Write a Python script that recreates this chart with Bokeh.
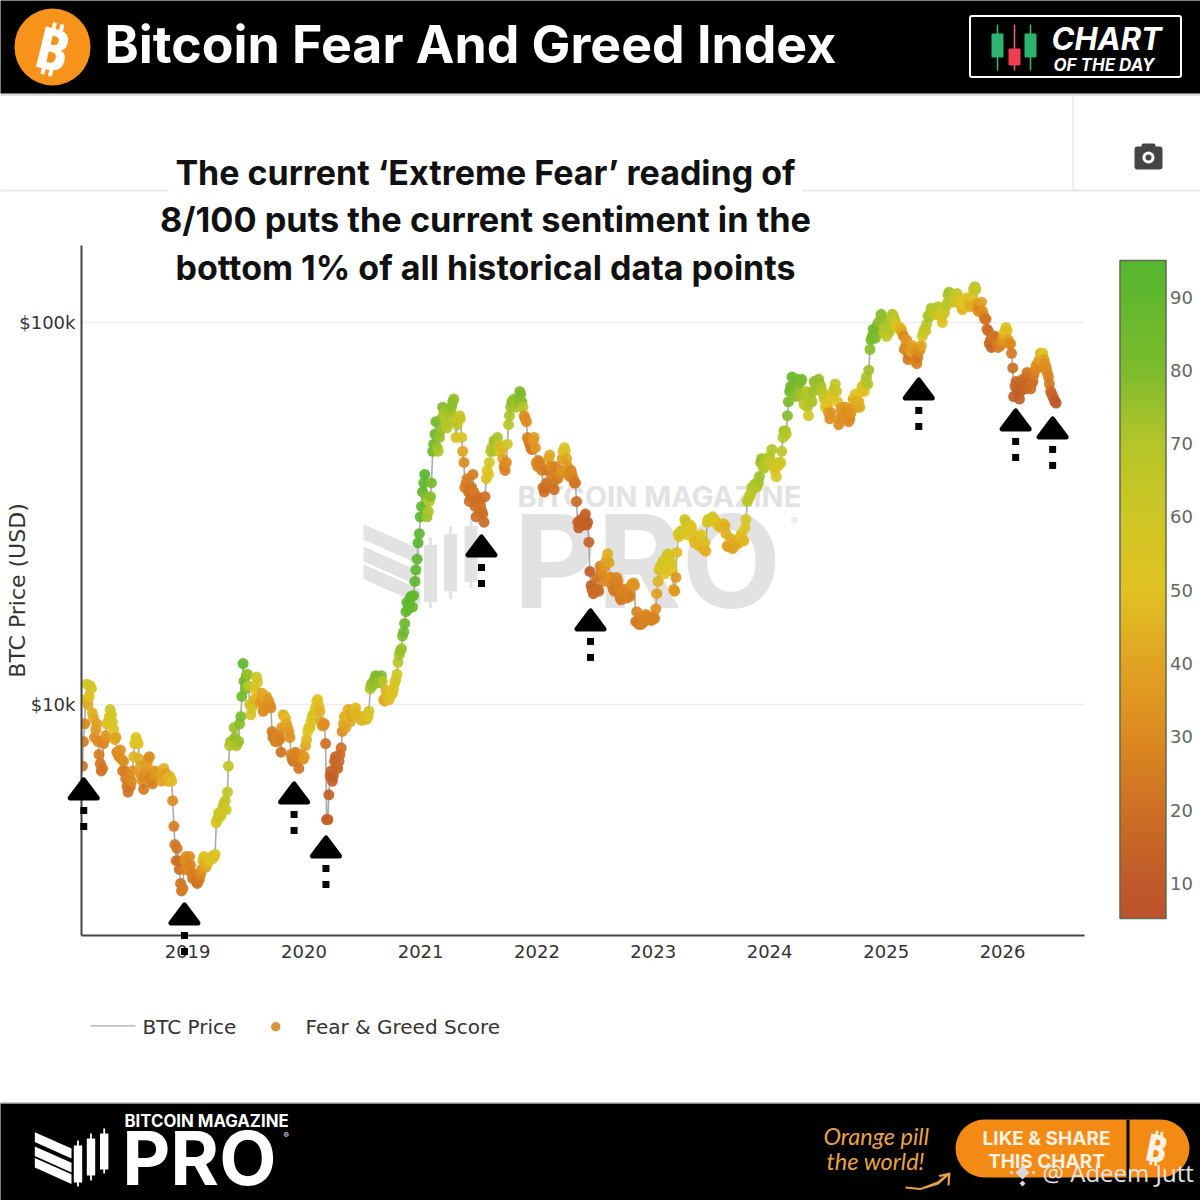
import math
import numpy as np
import pandas as pd
from bokeh.embed import file_html
from bokeh.resources import INLINE
from bokeh.plotting import figure
from bokeh.models import (BoxAnnotation, ColorBar, ColumnDataSource, FixedTicker, Label,
                          LinearColorMapper, PolyAnnotation)

# ---------- data ----------
price_2018 = [6900,8900,11300,10500, 11000,9200,8600,8000, 7000,6800,8100,8900,9300, 9400,8600,8200,7400,
              7600,6700,6700,6100, 6500,6300,7300,8200,7900, 6900,6300,6500,7000, 7300,6300,6500,6600,
              6600,6600,6500,6500,6400, 6500,6300,4800,3900, 3900,3400,3300,3900,3800]
score_2018 = [20,28,56,50, 58,42,36,30, 22,22,30,46,55, 60,50,40,30,
              32,25,25,22, 28,30,46,55,52, 40,30,30,38, 30,28,32,36,
              34,38,42,40,44, 46,48,25,22, 20,22,24,30,32]
mid_price_2018 = [8000,10300,10000,11200, 9500,8200,8900,7400, 6700,7900,8300,9000,9700, 9000,8100,7500,7300,
                  7200,7100,6400,5900, 6100,6700,7900,8000,7200, 6500,6000,6700,7200, 6500,6200,6700,6500,
                  6550,6300,6800,6600,6300, 6400,5600,4300,4200, 3700,3250,3700,4000,3700]
mid_score_2018 = [24,45,42,60, 45,30,38,25, 20,28,36,50,62, 55,42,28,30,
                  30,32,24,20, 22,32,52,58,45, 32,24,34,40, 28,26,34,34,
                  32,40,44,36,42, 44,30,24,22, 18,20,26,32,30]
price_2019 = [4000,3600,3550,3450, 3450,3600,3900,3800, 3850,3900,4000,4000, 4900,5200,5100,5400,5600,
              5900,7800,8000,8700, 7800,8000,9300,12800, 11000,12000,10000,9800,10300, 11800,10300,10200,9600,
              10400,10300,10000,8500,8300, 8200,8300,7500,9400, 9200,8700,8200,7200, 7400,7300,6800,7400,7200]
score_2019 = [30,25,24,22, 22,30,45,42, 45,50,52,50, 55,58,60,62,63,
              65,68,72,74, 72,75,80,92, 80,75,65,55,45, 62,48,35,30,
              42,38,35,25,25, 30,28,22,45, 48,40,32,25, 28,26,22,30,32]
mid_price_2019 = [3800,3500,3600,3400, 3500,3700,4000,3750, 3900,3950,3950,4050, 5000,5100,5250,5500,5300,
                  6900,8000,7900,8200, 7900,8900,10500,11500, 11900,11200,9400,10000,10900, 11400,10100,10700,9700,
                  10500,10200,9800,8200,8000, 8000,8100,8700,9300, 8900,8500,7400,7100, 7500,7100,7200,7300,7300]
mid_score_2019 = [28,24,26,20, 24,34,48,40, 46,50,54,52, 56,60,60,64,60,
                  66,72,70,76, 70,78,84,88, 82,68,58,60,50, 58,40,40,32,
                  42,36,30,22,24, 28,26,32,44, 42,36,28,24, 28,24,26,28,36]
price_2020 = [7800,8500,8700,9300, 9500,10200,9900,9000, 8800,7900,5000,6500,6300, 7100,6900,7100,7700,
              8900,8700,9700,9000, 9700,9700,9400,9300,9100, 9300,9200,9300,11000, 11200,11600,11800,11400,11900,
              10300,10900,10500,10700, 10700,11400,12000,13500, 14000,15500,17500,17800,19000,
              18000,21000,24000,28000]
score_2020 = [40,50,52,55, 55,50,48,40, 35,20,12,12,12, 15,15,18,20,
              40,40,45,42, 45,46,44,46,45, 46,48,50,72, 75,78,80,75,80,
              45,45,46,48, 50,55,60,72, 75,85,88,90,92,
              88,92,92,93]
mid_price_2020 = [8100,8700,9000,9400, 9800,10300,9600,8800, 8900,5000,5800,6700,6500, 7300,6800,7400,8500,
                  9300,9200,9300,9500, 9500,9800,9300,9200,9100, 9250,9150,9600,11300, 11500,11900,11500,11500,11500,
                  10200,10700,10300,10600, 11000,11600,12900,13800, 15100,16300,18500,18300,19200,
                  19300,22500,26500,31000]
mid_score_2020 = [46,52,54,56, 52,50,44,38, 30,14,12,13,13, 14,16,18,30,
                  42,44,46,40, 44,48,46,44,46, 48,46,60,74, 76,80,78,78,70,
                  42,46,48,50, 52,58,68,74, 80,86,90,90,94,
                  90,93,94,92]
price_2021 = [33000,38000,35000,32000, 35000,46000,51000,47000, 50000,56000,58000,54000,58000,
              58000,62000,55000,54000, 57000,50000,43000,38000, 36000,35000,40000,33000,35000,
              34000,32000,30000,39000, 40000,46000,46000,49000,50000, 46000,47000,42000,43000,
              54000,60000,62000,61000, 62000,66000,62000,57000,55000, 49000,47000,49000,47000]
score_2021 = [90,92,78,72, 78,88,88,75, 75,78,72,70,72,
              72,78,70,65, 66,55,30,25, 22,20,25,20,22,
              20,22,18,55, 50,68,72,75,72, 55,45,28,30,
              68,75,78,75, 75,80,78,32,30, 27,25,35,35]
mid_price_2021 = [36000,40000,31000,34000, 38000,48000,55000,46000, 52000,60000,56000,53000,59000,
                  60000,63000,50000,56000, 56000,46000,37000,39000, 34000,37000,36000,31000,34500,
                  33000,31500,35000,41000, 43000,47000,49000,47000,48000, 46000,44000,41000,48000,
                  57000,62000,63000,60000, 63000,65000,60000,56000,50000, 48000,46500,50000,43000]
mid_score_2021 = [92,94,74,70, 82,86,84,72, 76,80,70,68,74,
                  76,76,60,64, 62,40,24,26, 20,22,24,18,20,
                  22,20,20,52, 58,70,74,72,66, 52,40,26,60,
                  72,78,76,72, 78,80,68,30,28, 26,24,36,30]
price_2022 = [42000,43000,41000,36000,38000, 44000,42000,38000,42000, 39000,40000,44000,47000,
              44000,40000,41000,39000, 38000,30000,30000,29500,31000, 29500,26600,20500,19500,
              20000,20000,23000,22000, 23000,24000,23500,21500,20000, 21000,21000,19000,19500,
              20000,19000,19500,20500,20800, 16500,16500,16500,17000, 17000,16800,16900,16600]
score_2022 = [28,27,26,20,20, 40,30,22,28, 25,30,40,55,
              40,30,28,28, 22,14,14,12,14, 13,14,14,15,
              18,20,28,30, 35,42,40,30,25, 25,28,25,28,
              28,26,28,32,35, 24,25,25,28, 28,28,28,28]
mid_price_2022 = [43500,42000,37000,37000,41000, 45000,40000,36500,39000, 41000,41000,46000,46000,
                  42000,39500,40000,38000, 34000,29000,30500,30000,31500, 30000,22300,20000,20000,
                  21500,19800,22500,21000, 23500,24800,21500,20500,19800, 21500,20200,18800,19800,
                  19500,19300,19200,20700,20500, 17500,16200,16200,16400, 17200,17000,16700,16700]
mid_score_2022 = [26,28,22,18,24, 42,26,20,26, 24,34,46,52,
                  36,28,30,26, 18,12,13,13,15, 12,10,13,16,
                  20,18,26,28, 36,44,34,26,24, 28,26,24,28,
                  26,28,26,34,33, 28,22,26,26, 30,28,26,28]
price_2023 = [17000,17800,21000,23000,23500, 22000,24500,24000,23500, 20000,21500,28000,28000,
              28500,30500,28500,29000, 29000,27000,27000,27000,27000, 26000,26500,30000,30500,
              30500,30500,30000,29500,29300, 29500,29300,26000,26000, 25800,26000,26700,26500,
              27500,27000,29000,34000,35000, 37000,37000,37500,38000, 43000,42000,43500,42500]
score_2023 = [28,32,45,52,55, 52,58,58,55, 38,35,55,58,
              60,60,55,52, 52,50,48,46,46, 48,48,55,58,
              58,56,52,50,48, 46,44,42,40, 40,40,42,42,
              48,48,52,68,68, 70,70,71,72, 75,72,70,68]
mid_price_2023 = [16800,19500,22500,22800,23800, 23000,24800,23300,22400, 19800,25000,27500,28500,
                  28200,30000,27800,29500, 28000,26500,27500,26000,27800, 25500,25200,30500,30200,
                  31000,30200,29800,29200,29100, 29700,28000,25900,27200, 25600,26600,26300,27200,
                  28000,26800,30500,34500,35500, 36500,37800,37200,39500, 44000,41500,44000,43000]
mid_score_2023 = [26,38,48,50,56, 54,60,56,50, 36,48,52,60,
                  58,62,54,54, 50,46,50,46,50, 44,44,58,60,
                  60,54,50,48,46, 48,44,40,44, 40,42,42,44,
                  50,46,58,70,66, 68,72,70,74, 76,70,72,66]
price_2024 = [44500,46500,42000,39500,43000, 43000,50000,52000,57000, 66000,72000,65000,70000,
              67000,70000,63000,65000,60000, 62000,62000,70000,68000, 71000,68000,65000,60000,
              60000,56000,64000,67000,66000, 54000,59000,59000,60000, 57000,56000,60000,63000,62000,
              62000,66000,67000,70000, 69000,85000,92000,94000, 97000,100000,105000,94000,94000]
score_2024 = [68,70,60,52,58, 60,70,72,78, 85,88,80,82,
              78,80,72,72,68, 70,72,78,75, 76,72,68,55,
              50,30,50,60,62, 30,35,38,35, 30,30,35,45,42,
              45,52,55,68, 70,78,85,85, 82,78,80,72,70]
mid_price_2024 = [43000,43000,41000,42000,42500, 46000,52000,51000,62000,
                  68000,68000,64000,71000, 65000,71000,61000,66000,57000,
                  63000,66000,69000,69000, 69000,66000,63000,61500,
                  58000,58000,66000,69000,62000, 56000,60000,57000,58500,
                  55000,58000,63000,65000,60000, 60000,68000,66000,72000,
                  75000,90000,96000,91000, 99000,101000,103000,97000,92000]
mid_score_2024 = [64,62,56,56,54, 66,74,70,82,
                  86,84,76,84, 74,82,66,70,58,
                  68,74,76,72, 78,68,62,52,
                  36,34,56,66,50, 32,38,32,32,
                  28,34,42,50,38, 42,58,50,72,
                  74,82,88,80, 84,76,76,70,64]
price_2025 = [98000,96000,105000,102000, 98000,96000,96000,92000, 87000,80000,84000,87000,83000,
              78000,84000,87000,94000, 95000,104000,106000,108000, 105000,108000,105000,103000,108000,
              110000,118000,118000,117000, 114000,119000,113000,110000, 111000,115000,115000,110000,117000,
              124000,112000,110000,113000, 104000,102000,95000,90000, 90000,92000,88000,88000,89000]
score_2025 = [72,70,72,65, 55,50,45,30, 30,25,38,40,35,
              28,30,40,62, 62,70,72,70, 65,65,62,55,62,
              65,72,72,70, 62,65,52,48, 48,55,50,42,55,
              68,38,30,38, 28,22,18,18, 20,22,25,25,30]
mid_price_2025 = [94000,101000,104000,100000, 97000,97000,94000,85000, 90000,82000,86000,85000,79000,
                  81000,85000,92000,96000, 99000,103000,109000,106000, 108000,110000,104000,100000,106000,
                  112000,120000,116000,113000, 116000,116000,112000,108000, 112000,116000,113000,111000,122000,
                  122000,107000,108000,107000, 102000,96000,88000,86000, 92000,89000,86000,87000,90000]
mid_score_2025 = [66,72,68,60, 52,48,40,26, 34,22,34,36,28,
                  24,32,52,64, 66,72,72,68, 66,68,58,50,60,
                  68,74,70,66, 62,60,50,46, 50,52,46,44,62,
                  64,32,28,34, 24,20,16,14, 24,22,24,26,34]
price_2026 = [93000,97000,90000,88000, 76000,68000,66000,63000, 68000,70000,72000,68000,67000,
              70000,75000,78000,80000, 82000,80000,76000,72000, 66000,64000,62000]
score_2026 = [45,55,38,30, 20,15,14,12, 14,16,18,18,18,
              20,28,32,38, 45,38,30,28, 18,16,10]
mid_price_2026 = [95000,95000,88000,83000, 64000,70000,68000,66000, 71000,67000,74000,70000,69000,
                  73000,77000,76000,83000, 83000,78000,74000,69000, 65000,63000,61500]
mid_score_2026 = [50,48,34,24, 12,14,16,12, 18,15,22,16,20,
                  24,32,30,44, 50,34,30,24, 16,14,9]
year_starts = ["2018-02-05","2019-01-07","2020-01-06","2021-01-04","2022-01-03","2023-01-02","2024-01-01","2025-01-06","2026-01-05"]

y_tick_values = [10000, 100000]
y_tick_labels = ["$10k", "$100k"]
x_tick_years = [2019, 2020, 2021, 2022, 2023, 2024, 2025, 2026]
colorbar_ticks = [10, 20, 30, 40, 50, 60, 70, 80, 90]
arrow_dates = ["2018-02-09","2018-12-22","2019-12-01","2020-03-10","2021-07-11","2022-06-18","2025-04-13","2026-02-11","2026-06-07"]
arrow_prices = [6442,3032,6288,4540,27860,17840,71780,59550,56750]

price_years = [price_2018,price_2019,price_2020,price_2021,price_2022,price_2023,price_2024,price_2025,price_2026]
score_years = [score_2018,score_2019,score_2020,score_2021,score_2022,score_2023,score_2024,score_2025,score_2026]
mid_price_years = [mid_price_2018,mid_price_2019,mid_price_2020,mid_price_2021,mid_price_2022,mid_price_2023,mid_price_2024,mid_price_2025,mid_price_2026]
mid_score_years = [mid_score_2018,mid_score_2019,mid_score_2020,mid_score_2021,mid_score_2022,mid_score_2023,mid_score_2024,mid_score_2025,mid_score_2026]
dates, prices, scores = [], [], []
for st, pr, sc, mp, ms_ in zip(year_starts, price_years, score_years, mid_price_years, mid_score_years):
    n = min(len(pr), len(sc), len(mp), len(ms_))
    for i, d in enumerate(pd.date_range(st, periods=n, freq="7D")):
        dates += [d, d + pd.Timedelta(days=3)]
        prices += [pr[i], mp[i]]
        scores += [sc[i], ms_[i]]

# ---------- colours ----------
stops = [(5.2,"#bd532c"),(10,"#c05a2a"),(20,"#cd7024"),(30,"#dd8a20"),(40,"#e0a322"),(50,"#e0c222"),
         (60,"#cec625"),(70,"#b5c528"),(80,"#7dbb2c"),(95,"#55b62e")]
def hex2rgb(h): return [int(h[i:i+2],16) for i in (1,3,5)]
vals = np.linspace(5.2,95,256)
palette = []
for v in vals:
    rgb = [np.interp(v,[s[0] for s in stops],[hex2rgb(s[1])[k] for s in stops]) for k in range(3)]
    palette.append("#%02x%02x%02x" % tuple(int(round(c)) for c in rgb))
mapper = LinearColorMapper(palette=palette, low=5.2, high=95)

# ---------- layers ----------
def layer():
    f = figure(width=1200, height=1200, output_backend="svg", toolbar_location=None, x_axis_location=None,
               y_axis_location=None, x_range=(0,1200), y_range=(1200,0), min_border=0)
    f.styles = {"position":"absolute","left":"0px","top":"0px"}
    f.grid.visible = False
    f.outline_line_color = None
    f.background_fill_color = None
    f.border_fill_color = None
    return f
bg = layer()
bg.background_fill_color = "white"
fg = layer()

ms = lambda s: pd.Timestamp(s).value / 1e6
x0, x1 = ms("2018-02-02"), ms("2026-09-15")
y0, y1 = 2485, 159000
L, R, T, B = 81, 1084, 245, 935
p = figure(width=1200, height=1200, output_backend="svg", toolbar_location=None,
           x_axis_type="datetime", y_axis_type="log", x_range=(x0,x1), y_range=(y0,y1),
           min_border_left=L, min_border_right=1200-R, min_border_top=T, min_border_bottom=1200-B)
p.styles = {"position":"absolute","left":"0px","top":"0px"}
p.outline_line_color = None
p.background_fill_color = None
p.border_fill_color = None
p.xgrid.visible = False
p.ygrid.ticker = FixedTicker(ticks=y_tick_values)
p.ygrid.grid_line_color = "#eeeeee"
p.ygrid.grid_line_width = 1.5
p.ygrid.minor_grid_line_color = None

xticks = [ms(f"{y}-01-01") for y in x_tick_years]
p.xaxis.ticker = FixedTicker(ticks=xticks)
p.xaxis.major_label_overrides = {t: str(y) for t, y in zip(xticks, x_tick_years)}
p.yaxis.ticker = FixedTicker(ticks=y_tick_values)
p.yaxis.major_label_overrides = dict(zip(y_tick_values, y_tick_labels))
for ax, so in ((p.xaxis[0], 3), (p.yaxis[0], 0)):
    ax.major_tick_line_color = None
    ax.minor_tick_line_color = None
    ax.axis_line_color = "#444444"
    ax.axis_line_width = 2
    ax.major_label_text_font = "DejaVu Sans"
    ax.major_label_text_font_size = "18px"
    ax.major_label_text_color = "#333333"
    ax.major_label_standoff = so

src = ColumnDataSource(dict(date=dates, price=prices, score=scores))
p.line("date", "price", source=src, line_color="#aaaaaa", line_width=1.6)
p.scatter("date", "price", source=src, size=11, line_color=None, fill_alpha=0.92,
          fill_color={"field":"score","transform":mapper})

# ---------- helpers in page pixels ----------
def box(l, t, r, b, color, fig=None, radius=0, line=None, lw=1):
    (fig or bg).add_layout(BoxAnnotation(left=l, right=r, top=t, bottom=b, left_units="canvas", right_units="canvas",
                               top_units="canvas", bottom_units="canvas", fill_color=color, fill_alpha=1,
                               line_color=line, line_width=lw, line_alpha=1 if line else 0,
                               border_radius=radius, editable=False))
def poly(pts, color, fig=None, line=None, lw=0):
    (fig or bg).add_layout(PolyAnnotation(xs=[a for a,_ in pts], ys=[b for _,b in pts], xs_units="canvas", ys_units="canvas",
                                fill_color=color, fill_alpha=1, line_color=line, line_width=lw,
                                line_alpha=1 if line else 0, line_join="round"))
def lbl(text, x, y, size, color="#000000", font="Inter", style="normal", align="left", base="alphabetic", angle=0, fig=None):
    yy = y - 0.38*size if base == "alphabetic" else y
    (fig or bg).add_layout(Label(text=text, x=x, y=yy, x_units="canvas", y_units="canvas", text_font=font,
                       text_font_size=f"{size}px", text_color=color, text_font_style=style, text_align=align,
                       text_baseline=base, angle=angle))
def logo(ox, oy, s, color):
    X = lambda v: ox + (v-34.3)*s
    Y = lambda v: oy + (v-1128)*s
    for a, b in [(1131.7,1141.5),(1146,1155.5),(1157.5,1167)]:
        poly([(X(34.3),Y(a)),(X(71),Y(a+16.3)),(X(71),Y(b+16.5)),(X(34.3),Y(b))], color)
    for cx, bt, bb, wt, wb in [(77.5,1145,1182,1140,1186),(90.5,1138,1175,1133,1180),(103.7,1133,1169,1128,1173)]:
        box(X(cx-4.2),Y(bt),X(cx+4.2),Y(bb),color)
        box(X(cx-0.9),Y(wt),X(cx+0.9),Y(wb),color)
def pro(x, base, k, color):
    lbl("PRO", x-4*k, base, 129*k, color, "Inter", "bold")

# ---------- watermark (under the data) ----------
WM = "#e2e2e2"
logo(363, 518, 1.55, WM)
lbl("BITCOIN MAGAZINE", 517, 507, 29, WM, "Inter", "bold")
pro(517, 610, 1.0, WM)
lbl("®", 790, 525, 11, WM, "Inter")

# ---------- modebar lines ----------
box(-2, 189, 168, 191, "#e8e8e8")
box(802, 189, 1202, 191, "#e8e8e8")
box(1072, 95, 1073.5, 190, "#e8e8e8")
box(-2, 93, 1202, 95.5, "#dddddd")
# camera icon
box(1134, 146, 1162, 169, "#444444", radius=3)
box(1141, 143, 1155, 148, "#444444", radius=2)
box(1142, 151, 1154, 163, "#ffffff", radius=6)
box(1145, 154, 1151, 160, "#444444", radius=3)

# ---------- header ----------
box(-2, -2, 1202, 93, "#000000")
box(14, 8, 90, 85, "#f7931a", radius=38)
lbl("₿", 52, 47, 58, "#ffffff", "Noto Sans", "bold", "center", "middle", angle=-0.24)
lbl("Bitcoin Fear And Greed Index", 104, 63, 51.8, "#ffffff", "Inter", "bold")
box(969.5, 15.5, 1180.5, 76.5, "#000000", line="#ffffff", lw=2, radius=2)
for cx, c in [(997,"#2db56f"),(1030,"#2db56f")]:
    box(cx-0.8, 24, cx+0.8, 70, c)
    box(cx-6, 33, cx+6, 57, c, radius=1)
box(1013.2, 24, 1014.8, 70, "#e8606a")
box(1008, 48, 1020, 65, "#f04050", radius=1)
lbl("CHART", 1051, 50, 31, "#ffffff", "Inter", "bold italic")
lbl("OF THE DAY", 1053, 71, 17, "#ffffff", "Inter", "bold italic")

# ---------- headline ----------
lbl("The current ‘Extreme Fear’ reading of", 485, 185, 34, "#111111", "Inter", "bold", "center")
lbl("8/100 puts the current sentiment in the", 485, 232, 34.3, "#111111", "Inter", "bold", "center")
lbl("bottom 1% of all historical data points", 485, 280, 34, "#111111", "Inter", "bold", "center")

# ---------- y title, legend ----------
lbl("BTC Price (USD)", 17, 590, 22, "#333333", "DejaVu Sans", "normal", "center", "middle", angle=math.pi/2)
box(90, 1024.7, 135, 1026, "#aaaaaa")
lbl("BTC Price", 142, 1034, 20, "#333333", "DejaVu Sans")
box(270.5, 1021.5, 280, 1031, "#d8963a", radius=5)
lbl("Fear & Greed Score", 305, 1034, 20, "#333333", "DejaVu Sans")

# ---------- arrows ----------
def sx(d): return L + (ms(d)-x0)/(x1-x0)*(R-L)
def sy(v): return B - (math.log10(v)-math.log10(y0))/(math.log10(y1)-math.log10(y0))*(B-T)
for d, v in zip(arrow_dates, arrow_prices):
    cx, ya = sx(d), sy(v)
    poly([(cx,ya+2.5),(cx-13.5,ya+20.5),(cx+13.5,ya+20.5)], "#000000", fig=fg, line="#000000", lw=5)
    for off in (33, 49):
        box(cx-3.5, ya+off-3.5, cx+3.5, ya+off+3.5, "#000000", fig=fg)

# ---------- colour bar ----------
cb = ColorBar(color_mapper=mapper, width=46, height=658, location=(1119.5-L, B-918), padding=0, margin=0,
              ticker=FixedTicker(ticks=colorbar_ticks), major_tick_line_color=None,
              major_label_text_font="DejaVu Sans", major_label_text_font_size="18px",
              major_label_text_color="#666666", label_standoff=4, bar_line_color="#5f6b50", bar_line_width=1.5,
              border_line_color=None, background_fill_color=None)
p.add_layout(cb, "center")

# ---------- footer ----------
box(-2, 1103, 1202, 1202, "#000000")
box(-2, 1102, 1202, 1103.5, "#888888")
logo(34.3, 1128, 1.0, "#ffffff")
lbl("BITCOIN MAGAZINE", 124, 1127, 16.8, "#ffffff", "Inter", "bold")
pro(124, 1186, 0.576, "#ffffff")
lbl("®", 283, 1138, 8, "#ffffff", "Inter")
lbl("Orange pill", 823, 1144, 23.5, "#e8a34a", "Lato", "italic")
lbl("the world!", 826, 1169, 23.5, "#e8a34a", "Lato", "italic")
poly([(905,1186),(920,1187.5),(937,1181),(947,1173),(948,1175),(938,1184),(920,1189.5),(905,1188)], "#e8a34a")
poly([(950,1172),(938,1174.5),(939,1176.5),(947.5,1175),(947,1185),(949,1185)], "#e8a34a")
box(955, 1119, 1189, 1177, "#f28a14", radius=29)
box(1126, 1119, 1129, 1177, "#000000")
lbl("LIKE & SHARE", 1046, 1145, 19, "#fff2e2", "Inter", "bold", "center")
lbl("THIS CHART", 1046, 1168, 19, "#fff2e2", "Inter", "bold", "center")
lbl("₿", 1156, 1161, 38, "#fff2e2", "Noto Sans", "bold", "center", angle=-0.2)
for (a, b, r) in [(1022,1172,7),(1011,1172,2),(1033,1172,2),(1022,1161,2),(1022,1183,3)]:
    poly([(a-r,b),(a,b-r),(a+r,b),(a,b+r)], "#d8d8d8")
lbl("@ Adeem Jutt", 1042, 1181, 24, "#e4e4e4", "Open Sans")

open("out.html", "w").write(file_html([bg, p, fg], INLINE))
